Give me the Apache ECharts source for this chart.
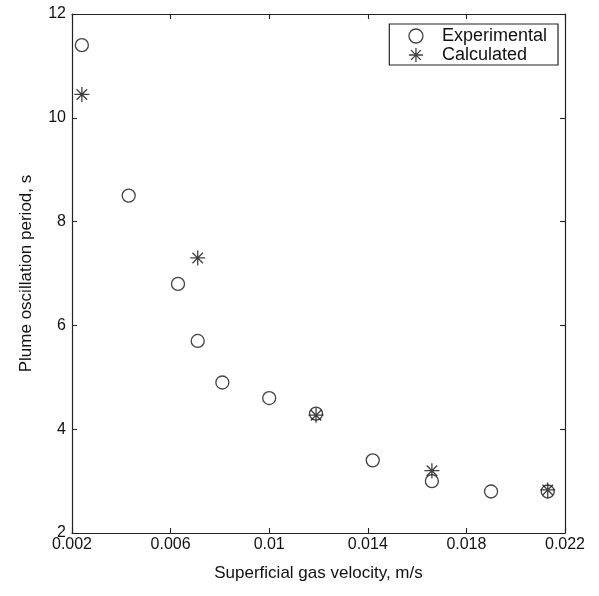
<!DOCTYPE html>
<html>
<head>
<meta charset="utf-8">
<script src="https://cdn.jsdelivr.net/npm/echarts@6/dist/echarts.min.js"></script>
<style>html,body{margin:0;padding:0;background:#fff}#c{width:599px;height:596px}</style>
</head>
<body>
<div id="c"></div>
<script>
const experimental = [
  [0.0024, 11.4], [0.0043, 8.5], [0.0063, 6.8], [0.0071, 5.7], [0.0081, 4.9],
  [0.0100, 4.6], [0.0119, 4.3], [0.0142, 3.4], [0.0166, 3.0], [0.0190, 2.8], [0.0213, 2.8]
];
const calculated = [
  [0.0024, 10.45], [0.0071, 7.3], [0.0119, 4.27], [0.0166, 3.2], [0.0213, 2.83]
];
const xTicks = [0.002, 0.006, 0.01, 0.014, 0.018, 0.022];
const yTicks = [2, 4, 6, 8, 10, 12];

const STAR = 'path://M50,0 L50,100 M0,50 L100,50 M15,15 L85,85 M15,85 L85,15';
const FONT = 'Liberation Sans';
const ink = '#111';

const chart = echarts.init(document.getElementById('c'), null, {renderer: 'canvas'});
const axisBase = {
  axisLine: {show: true, onZero: false, lineStyle: {color: '#222', width: 1.2}},
  axisTick: {show: true, inside: true, length: 5, lineStyle: {color: '#222', width: 1.1}},
  splitLine: {show: false}
};
chart.setOption({
  backgroundColor: '#fff',
  animation: false,
  textStyle: {fontFamily: FONT},
  grid: {left: 72, right: 34, top: 14, bottom: 63},
  legend: {
    orient: 'vertical', right: 41, top: 24,
    backgroundColor: '#fff', borderColor: '#222', borderWidth: 1.2,
    padding: [3, 11, 1, 19], itemGap: 1, itemWidth: 14, itemHeight: 14,
    textStyle: {fontFamily: FONT, fontSize: 18, color: ink, padding: [0, 0, 0, 14], lineHeight: 17},
    data: [
      {name: 'Experimental', icon: 'circle', itemStyle: {color: 'transparent', borderColor: '#111', borderWidth: 1.3}},
      {name: 'Calculated', icon: STAR, itemStyle: {color: 'transparent', borderColor: '#111', borderWidth: 1.3}}
    ]
  },
  xAxis: [
    Object.assign({}, axisBase, {
      type: 'value', min: 0.002, max: 0.022, interval: 0.004, position: 'bottom',
      name: 'Superficial gas velocity, m/s', nameLocation: 'middle', nameGap: 32,
      nameTextStyle: {fontFamily: FONT, fontSize: 17, color: ink},
      axisLabel: {fontFamily: FONT, fontSize: 16, color: ink, margin: 4,
        formatter: v => { const t = xTicks.find(k => Math.abs(k - v) < 1e-9); return t === undefined ? '' : String(t); }}
    }),
    Object.assign({}, axisBase, {
      type: 'value', min: 0.002, max: 0.022, interval: 0.004, position: 'top',
      axisLabel: {show: false}
    })
  ],
  yAxis: [
    Object.assign({}, axisBase, {
      type: 'value', min: 2, max: 12, interval: 2, position: 'left',
      name: 'Plume oscillation period, s', nameLocation: 'middle', nameGap: 37,
      nameTextStyle: {fontFamily: FONT, fontSize: 17, color: ink},
      axisLabel: {fontFamily: FONT, fontSize: 16, color: ink, margin: 6,
        formatter: v => { const t = yTicks.find(k => Math.abs(k - v) < 1e-9); return t === undefined ? '' : String(t); }}
    }),
    Object.assign({}, axisBase, {
      type: 'value', min: 2, max: 12, interval: 2, position: 'right',
      axisLabel: {show: false}
    })
  ],
  series: [
    {
      name: 'Experimental', type: 'scatter', xAxisIndex: 0, yAxisIndex: 0,
      symbol: 'circle', symbolSize: 13,
      itemStyle: {color: 'transparent', borderColor: '#111', borderWidth: 1.3},
      emphasis: {disabled: true},
      data: experimental
    },
    {
      name: 'Calculated', type: 'scatter', xAxisIndex: 0, yAxisIndex: 0,
      symbol: STAR, symbolSize: 15, z: 3,
      itemStyle: {color: 'transparent', borderColor: '#111', borderWidth: 1.3},
      emphasis: {disabled: true},
      data: calculated
    }
  ]
});
</script>
</body>
</html>
